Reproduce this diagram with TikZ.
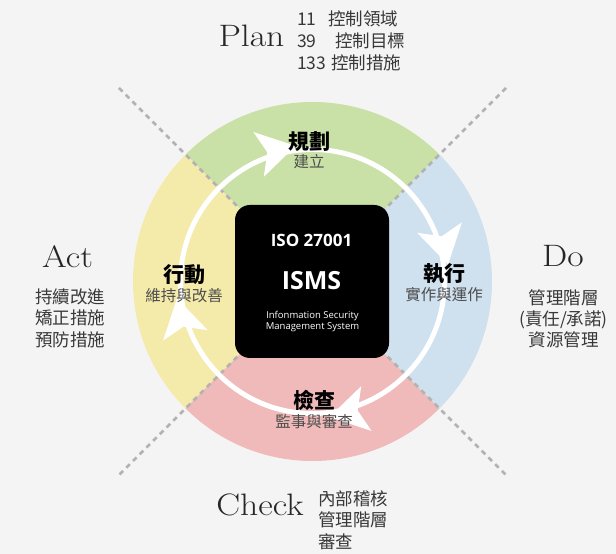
\documentclass[tikz,border=0pt]{standalone}
\usepackage{fontspec}
\newfontfamily\cjk{Noto Sans CJK TC}
\newfontfamily\osans{Open Sans}
\usetikzlibrary{calc}
\definecolor{bgc}{HTML}{F4F4F4}
\definecolor{cgreen}{HTML}{C9E0A7}
\definecolor{cblue}{HTML}{CFE0EF}
\definecolor{cpink}{HTML}{F0BABA}
\definecolor{cyellow}{HTML}{F4EAAA}
\newcommand\pdcastretch[1]{\scalebox{1.15}[1]{#1}}
\begin{document}
\begin{tikzpicture}[x=1pt,y=1pt,
  every node/.style={inner sep=0pt},
  pdcaword/.style={font=\fontsize{31}{33}\selectfont, text=black!85, anchor=base},
  sidetext/.style={font=\cjk\fontsize{17.5}{20}\selectfont, text=black!78, anchor=base},
  titletext/.style={font=\cjk\bfseries\fontsize{21}{24}\selectfont, text=black, anchor=base},
  subtext/.style={font=\cjk\fontsize{15.5}{18}\selectfont, text=black!70, anchor=base},
  divline/.style={draw=black!30, line width=2.6pt, dash pattern=on 5pt off 4.5pt},
  boxtext/.style={font=\osans, text=white, anchor=base},
]
\fill[bgc] (0,0) rectangle (616,554);
\useasboundingbox (0,0) rectangle (616,554);
\coordinate (C) at (312.5,272.5);
% sectors
\fill[cgreen] (C) -- ++(45:179.5) arc[start angle=45,end angle=135,radius=179.5] -- cycle;
\fill[cyellow] (C) -- ++(135:179.5) arc[start angle=135,end angle=225,radius=179.5] -- cycle;
\fill[cpink] (C) -- ++(225:179.5) arc[start angle=225,end angle=315,radius=179.5] -- cycle;
\fill[cblue] (C) -- ++(-45:179.5) arc[start angle=-45,end angle=45,radius=179.5] -- cycle;
% dividing dashed lines
\coordinate (TL) at (119,466);
\coordinate (TR) at (506,466);
\coordinate (BL) at (119,79);
\coordinate (BR) at (506,79);
\draw[divline] (TL) -- (BR);
\draw[divline] (TR) -- (BL);
% white cycle
\draw[white, line width=5pt] (C) circle[radius=132];
\foreach \t in {113,23,-67,-157}{
  \fill[white] ($(C)+(\t:138)+(\t-100:38)$) -- ($(C)+(\t:138)+(\t-10:23)$)
     -- ($(C)+(\t:138)+(\t-100:9)$) -- ($(C)+(\t:138)+(\t+170:23)$) -- cycle;
}
% central box
\node[fill=black, rounded corners=15pt, minimum width=154pt, minimum height=153pt] (box) at (312,272.5) {};
\node[boxtext, font=\osans\bfseries\fontsize{17}{20}\selectfont] (iso) at (311.5,307.3) {ISO 27001};
\node[boxtext, font=\osans\bfseries\fontsize{25}{28}\selectfont] (isms) at (311.5,264) {ISMS};
\node[boxtext, font=\osans\fontsize{9.5}{11}\selectfont] (info1) at (312.5,235) {Infonmation Security};
\node[boxtext, font=\osans\fontsize{9.5}{11}\selectfont] (info2) at (312.5,224) {Management System};
% sector titles
\node[titletext] (plant) at (309,404) {規劃};
\node[subtext] (plans) at (309,386) {建立};
\node[titletext] (dot) at (444,272) {執行};
\node[subtext] (dos) at (444,253) {實作與運作};
\node[titletext] (actt) at (184,271) {行動};
\node[subtext] (acts) at (184,252) {維持與改善};
\node[titletext] (checkt) at (314,145) {檢查};
\node[subtext] (checks) at (314,126) {監事與審查};
% Plan
\node[pdcaword] (plan) at (251.5,507) {\pdcastretch{Plan}};
\node[sidetext, anchor=base west] (p1n) at (297,528) {11};
\node[sidetext, anchor=base west] (p1t) at (328,528) {控制領域};
\node[sidetext, anchor=base west] (p2n) at (297,506) {39};
\node[sidetext, anchor=base west] (p2t) at (335,506) {控制目標};
\node[sidetext, anchor=base west] (p3n) at (297,484) {133};
\node[sidetext, anchor=base west] (p3t) at (331,484) {控制措施};
% Act
\node[pdcaword] (act) at (67.5,286) {\pdcastretch{Act}};
\node[sidetext] (a1) at (70,250) {持續改進};
\node[sidetext] (a2) at (70,229) {矯正措施};
\node[sidetext] (a3) at (70,207) {預防措施};
% Do
\node[pdcaword] (do) at (563,287) {\pdcastretch{Do}};
\node[sidetext] (d1) at (563.5,249) {管理階層};
\node[sidetext] (d2) at (563.5,228) {(責任/承諾)};
\node[sidetext] (d3) at (563.5,207) {資源管理};
% Check
\node[pdcaword] (check) at (260,38) {\pdcastretch{Check}};
\node[sidetext, anchor=base west] (c1) at (318,48.5) {內部稽核};
\node[sidetext, anchor=base west] (c2) at (318,27) {管理階層};
\node[sidetext, anchor=base west] (c3) at (318,5.5) {審查};
\end{tikzpicture}
\end{document}
